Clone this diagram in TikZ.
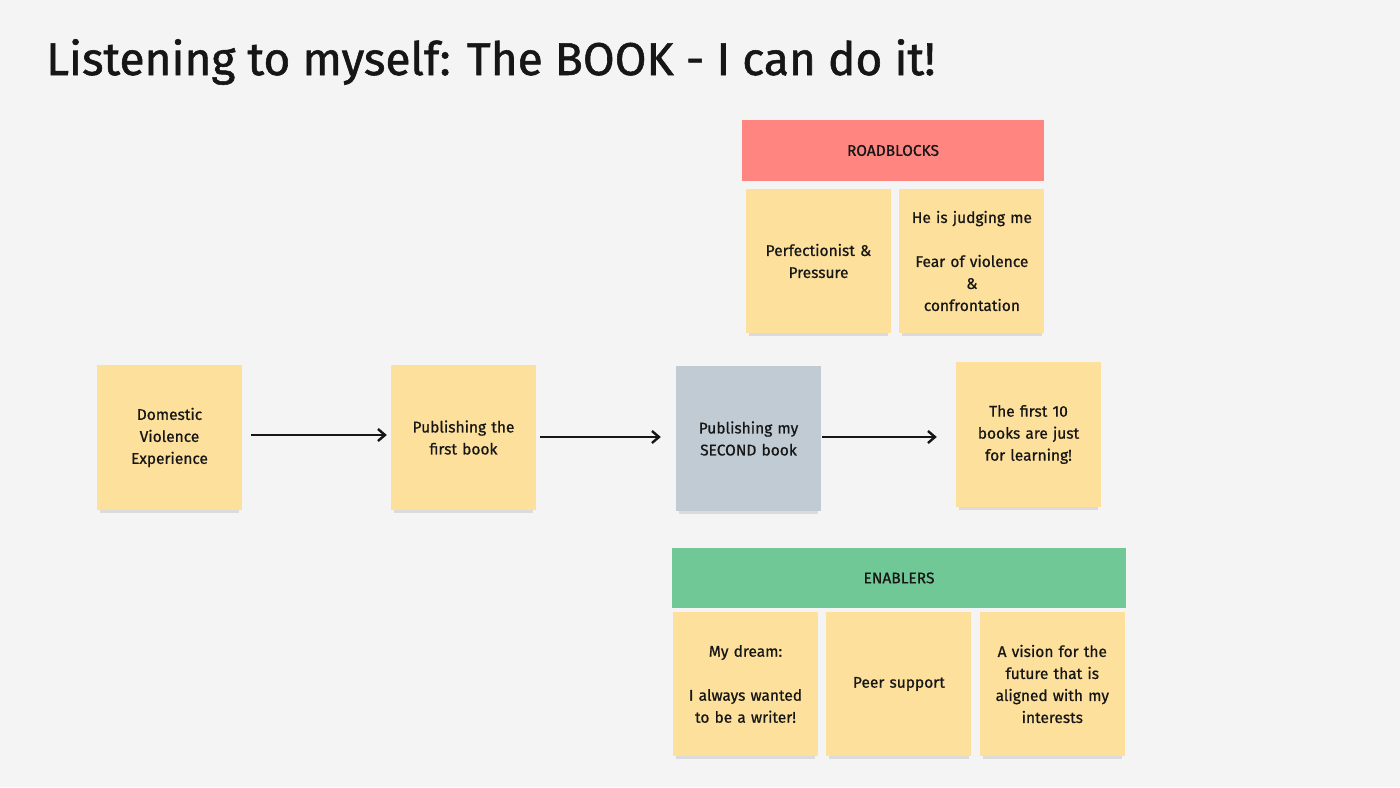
\documentclass[tikz,border=0pt]{standalone}
\usepackage{fontspec}
\setmainfont{Fira Sans}
\newfontfamily\notefont{Fira Sans}[FakeBold=0.7]
\newfontfamily\titlefont{Fira Sans}[FakeBold=1.2]
\usetikzlibrary{positioning,arrows.meta,shadows}

\definecolor{paper}{HTML}{F4F4F4}
\definecolor{sticky}{HTML}{FCE09B}
\definecolor{slate}{HTML}{C1CBD4}
\definecolor{roadred}{HTML}{FF8580}
\definecolor{enablegreen}{HTML}{6FC896}
\definecolor{ink}{HTML}{161616}

\begin{document}
\begin{tikzpicture}[
x=1pt,y=-1pt,
font=\notefont\fontsize{15.5}{22}\selectfont,
text=ink,
note/.style={
fill=sticky,
minimum width=145pt,
minimum height=145pt,
text width=134pt,
align=center,
inner sep=0pt,
general shadow={fill=black!14, shadow yshift=-6pt, shadow scale=0.96}
},
header/.style={
minimum height=61pt,
inner sep=0pt,
align=center
},
arrow/.style={
-{Straight Barb[length=7pt,width=12pt]},
line width=2.4pt,
draw=ink
}
]

\fill[paper] (0,0) rectangle (1400,787);
\useasboundingbox (0,0) rectangle (1400,787);

% title
\node[anchor=base west,inner sep=0pt,font=\titlefont\fontsize{46}{50}\selectfont] (title)
at (46,75) {Listening to myself: The BOOK - I can do it!};


% main row
\node[note] (dom) at (169.5,437.5)
{
Domestic\\
Violence\\
Experience
};

\node[note] (first) at (463.5,437.5)
{
Publishing the\\
first book
};

\node[note,fill=slate] (second) at (748.5,438.5)
{
Publishing my\\
SECOND book
};

\node[note] (ten) at (1028.5,434.5)
{
The first 10\\
books are just\\
for learning!
};


% arrows
\draw[arrow,shorten <=9pt,shorten >=4pt] (dom.east|-0,435)--(first.west|-0,435);
\draw[arrow,shorten <=4pt,shorten >=15pt] (first.east|-0,437)--(second.west|-0,437);
\draw[arrow,shorten <=1pt,shorten >=19pt] (second.east|-0,437)--(ten.west|-0,437);


% roadblocks
\node[header,fill=roadred,minimum width=302pt] (road) at (893,150.5)
{ROADBLOCKS};

\node[note,minimum height=144pt] (perf) at (818.5,261)
{
Perfectionist \&\\
Pressure
};

\node[note,minimum height=144pt,right=8pt of perf] (judge)
{
He is judging me\\[22pt]
Fear of violence\\
\&\\
confrontation
};


% enablers
\node[header,fill=enablegreen,minimum width=454pt,minimum height=60pt] (enab) at (899,578)
{ENABLERS};

\node[note,minimum height=144pt] (dream) at (745.5,684)
{
My dream:\\[22pt]
I always wanted\\
to be a writer!
};

\node[note,minimum height=144pt,right=8pt of dream] (peer)
{
Peer support
};

\node[note,minimum height=144pt,right=8pt of peer] (vision)
{
A vision for the\\
future that is\\
aligned with my\\
interests
};

\end{tikzpicture}
\end{document}
